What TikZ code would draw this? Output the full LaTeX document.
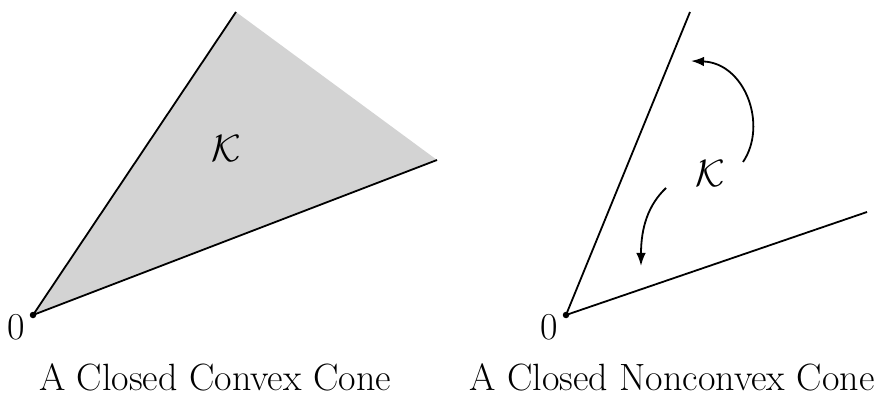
\documentclass[tikz,border=0pt]{standalone}
\usepackage{graphicx}
\usetikzlibrary{arrows.meta}
\definecolor{conegray}{RGB}{211,211,211}
\tikzset{
  ray/.style={line width=1.8pt},
  apexdot/.style={circle, fill=black, inner sep=0pt, minimum size=6.5pt},
  lbl/.style={inner sep=0pt, font=\fontsize{38}{42}\selectfont, anchor=base},
  conelbl/.style={inner sep=0pt, font=\fontsize{10}{12}\selectfont, anchor=base},
  curvedarrow/.style={line width=1.8pt, -{Latex[length=13pt,width=9.5pt]}}
}
\begin{document}
\begin{tikzpicture}[x=1pt,y=-1pt]
\useasboundingbox (0,0) rectangle (883,395);
% left cone
\coordinate (La) at (33,315);
\coordinate (Lu) at (236,12);
\coordinate (Ll) at (437,160);
\fill[conegray] (La) -- (Lu) -- (Ll) -- cycle;
\draw[ray] (Lu) -- (La) -- (Ll);
\node[apexdot] (Ldot) at (La) {};
\node[lbl] (L0) at (16.5,339) {0};
\node[conelbl] (LK) at (226,162) {\scalebox{3.8}{$\mathcal{K}$}};
\node[lbl] (Lcap) at (215,390) {A Closed Convex Cone};
% right cone
\coordinate (Ra) at (566,315);
\coordinate (Ru) at (690,12);
\coordinate (Rl) at (867,212);
\draw[ray] (Ru) -- (Ra) -- (Rl);
\node[apexdot] (Rdot) at (Ra) {};
\node[lbl] (R0) at (549,339) {0};
\node[conelbl] (RK) at (710,187) {\scalebox{3.8}{$\mathcal{K}$}};
\node[lbl] (Rcap) at (672,390) {A Closed Nonconvex Cone};
\coordinate (A1s) at (743,162);
\coordinate (A1e) at (691,61);
\coordinate (A2s) at (666,188);
\coordinate (A2e) at (641,266);
\draw[curvedarrow] (A1s) .. controls (768,125) and (745,63) .. (A1e);
\draw[curvedarrow] (A2s) .. controls (648,205) and (641,228) .. (A2e);
\end{tikzpicture}
\end{document}
